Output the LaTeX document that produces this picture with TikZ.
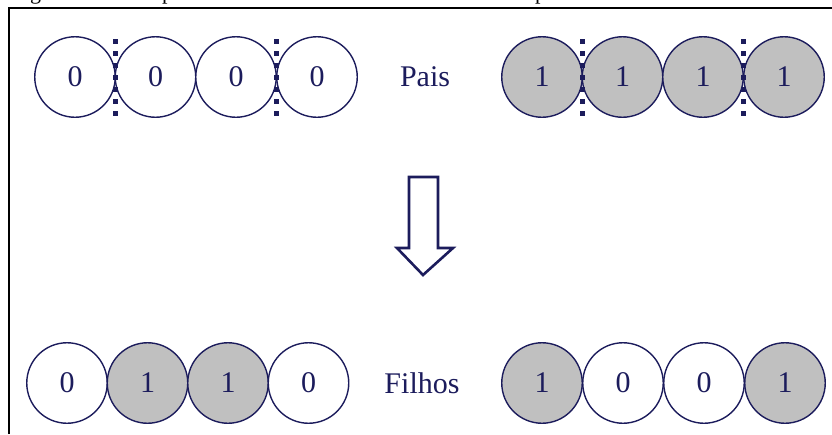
\documentclass[tikz,border=0pt]{standalone}
\usepackage{fontspec}
\setmainfont{Liberation Serif}
\definecolor{ink}{RGB}{28,28,92}
\definecolor{gene}{RGB}{192,192,192}
\begin{document}
\begin{tikzpicture}[x=1pt,y=-1pt,
  bit/.style={circle,draw=ink,line width=1.4pt,minimum size=80.5pt,inner sep=0pt,
    text=ink,font=\fontsize{30}{30}\selectfont},
  zero/.style={bit,fill=white},
  one/.style={bit,fill=gene},
  cut/.style={draw=ink,line width=4.5pt,dash pattern=on 4.5pt off 7.5pt},
  label/.style={text=ink,font=\fontsize{30}{30}\selectfont,inner sep=0pt},
  caption/.style={anchor=base west,inner sep=0pt,font=\fontsize{22}{22}\selectfont},
  frame/.style={draw=black,line width=2pt}]
\useasboundingbox (0,0) rectangle (832,434);

% caption line above the frame (only its descenders show)
\begin{scope}
  \clip (0,0) rectangle (832,7);
  \node[caption] (capg) at (30,-1) {g};
  \node[caption] (capp1) at (162,-1) {p};
  \node[caption] (capp2) at (535,-1) {p};
\end{scope}

% frame
\draw[frame] (8.5,434) -- (8.5,8) -- (832,8);

% parents
\node[zero] (a1) at (75,77) {0};
\node[zero] (a2) at (155.5,77) {0};
\node[zero] (a3) at (236,77) {0};
\node[zero] (a4) at (317,77) {0};
\node[label] (pais) at (425,77) {Pais};
\node[one] (b1) at (542,77) {1};
\node[one] (b2) at (622.5,77) {1};
\node[one] (b3) at (703,77) {1};
\node[one] (b4) at (784,77) {1};

% crossover points
\coordinate (ca1) at (115.5,39);
\coordinate (ca2) at (115.5,116);
\coordinate (ca3) at (276.5,39);
\coordinate (ca4) at (276.5,116);
\coordinate (cb1) at (582.5,39);
\coordinate (cb2) at (582.5,116);
\coordinate (cb3) at (743.5,39);
\coordinate (cb4) at (743.5,116);
\draw[cut] (ca1) -- (ca2);
\draw[cut] (ca3) -- (ca4);
\draw[cut] (cb1) -- (cb2);
\draw[cut] (cb3) -- (cb4);

% hollow arrow
\draw[draw=ink,line width=2.6pt,line join=miter,fill=white]
  (409,177) -- (438,177) -- (438,248) -- (453,248) -- (423,275)
  -- (397,248) -- (409,248) -- cycle;

% children
\node[zero] (c1) at (67,383) {0};
\node[one] (c2) at (147.5,383) {1};
\node[one] (c3) at (228,383) {1};
\node[zero] (c4) at (308.5,383) {0};
\node[label] (filhos) at (422,383) {Filhos};
\node[one] (d1) at (542,383) {1};
\node[zero] (d2) at (623,383) {0};
\node[zero] (d3) at (704,383) {0};
\node[one] (d4) at (785,383) {1};
\end{tikzpicture}
\end{document}
